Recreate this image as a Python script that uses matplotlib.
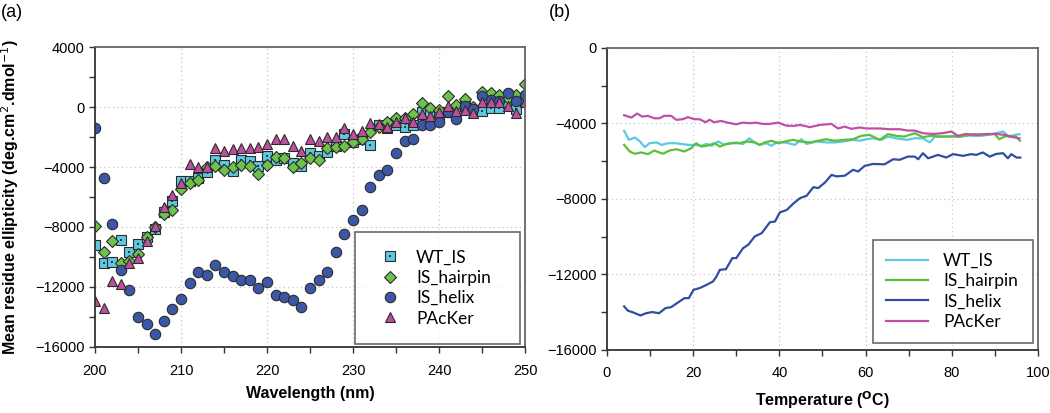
import matplotlib
matplotlib.use("Agg")
import matplotlib.pyplot as plt
from matplotlib.ticker import MultipleLocator
from matplotlib.legend_handler import HandlerTuple
import numpy as np

plt.rcParams['font.family'] = ['Liberation Sans', 'DejaVu Sans']

# ---- panel (a): CD spectra ----
wavelength = list(range(200, 251))

wt_is = [-9200, -10420, -10330, -8890, -9690, -9110, -8670, -8160, -7000, -6270,
         -4900, -4950, -4700, -4330, -3550, -3870, -4240, -3550, -3580, -3960,
         -3270, -3550, -3400, -3760, -3930, -3090, -3270, -2980, -2600, -1780,
         -2300, -2100, -2530, -1220, -1380, -1200, -1310, -1220, -310, -420,
         -500, -300, -200, 70, -200, -270, -50, -50, 290, -130, 400]

is_hairpin = [-7930, -9670, -8960, -10380, -10300, -9820, -8690, -7980, -7110, -6890,
              -5490, -5040, -4870, -4020, -3960, -4200, -3980, -3840, -3930, -4490,
              -3870, -3310, -3380, -3980, -3760, -3380, -3510, -2760, -2640, -2580,
              -2310, -2130, -1670, -1360, -980, -710, -700, -490, 290, -50,
              -200, 710, 110, 510, 0, 1020, 950, 780, 580, 820, 1530]

is_helix = [-1380, -4730, -7820, -10850, -12180, -13980, -14490, -15150, -14270, -13440,
            -12820, -11730, -11020, -11220, -10550, -11020, -11240, -11510, -11560, -12040,
            -11670, -12510, -12690, -12870, -13310, -12040, -11560, -11020, -9670, -8490,
            -7510, -6890, -5310, -4530, -4200, -3070, -2250, -2130, -1200, -1220,
            -1000, -330, -820, 50, -150, 750, 470, 400, 910, 400, 800]

packer = [-12930, -13380, -11580, -11820, -10380, -10070, -8930, -7910, -6640, -5870,
          -5090, -3820, -4020, -4020, -2760, -2910, -2820, -2760, -2760, -2690,
          -2490, -2160, -2130, -2600, -2910, -2160, -2250, -1980, -1980, -1420,
          -1820, -1580, -1040, -1130, -1310, -980, -710, -980, -470, -600,
          -310, 70, -270, -200, -380, 360, 310, 360, 70, -420, 360]

# ---- panel (b): thermal melts ----
t_wt = [4.0, 5.1, 6.5, 7.6, 8.8, 9.9, 11.5, 12.7, 14.2, 15.8, 17.3, 18.8, 20.4, 21.9,
        23.1, 24.3, 25.8, 27.3, 28.5, 30.1, 31.6, 33.0, 34.3, 35.4, 37.0, 38.2, 39.3,
        41.3, 43.6, 45.1, 46.3, 48.6, 50.9, 52.8, 54.8, 57.1, 58.6, 60.2, 61.7, 63.7,
        65.2, 67.1, 69.5, 71.4, 73.3, 74.9, 76.1, 78.0, 80.3, 81.8, 83.4, 84.9, 86.8,
        88.4, 90.3, 91.9, 93.4, 94.6, 95.7]
v_wt = [-4400, -4870, -4750, -4940, -5260, -5050, -5010, -5140, -5050, -5050, -5090,
        -5140, -5140, -5190, -5090, -5190, -4960, -5140, -5050, -5010, -5100, -4790,
        -5010, -5140, -5050, -5190, -5010, -5010, -5140, -4840, -5090, -4960, -5010,
        -5010, -4960, -4870, -4920, -4840, -4790, -4870, -4700, -4790, -4870, -4790,
        -4790, -5010, -4700, -4700, -4660, -4730, -4610, -4660, -4660, -4610, -4520,
        -4430, -4730, -4610, -4570]

t_hp = [4.0, 5.3, 6.5, 8.0, 9.5, 11.0, 13.0, 14.5, 16.1, 18.0, 19.5, 20.7, 21.9, 23.1,
        25.0, 26.2, 27.7, 29.2, 30.8, 32.3, 34.3, 35.4, 36.6, 38.2, 39.7, 41.3, 43.2,
        44.8, 47.1, 49.0, 50.9, 52.8, 55.2, 57.1, 59.0, 60.9, 63.3, 65.2, 67.1, 69.0,
        71.4, 73.3, 75.2, 77.2, 79.5, 81.4, 83.3, 85.3, 87.6, 89.9, 91.0, 92.2, 93.8,
        94.9, 95.8]
v_hp = [-5140, -5490, -5610, -5540, -5630, -5440, -5610, -5440, -5370, -5490, -5320,
        -5050, -5230, -5190, -5050, -5230, -5090, -5050, -5050, -4960, -5010, -5140,
        -5010, -4920, -5050, -4960, -4870, -4960, -5010, -4920, -4840, -4920, -4870,
        -4840, -4660, -4610, -4870, -4570, -4660, -4700, -4520, -4730, -4660, -4700,
        -4700, -4700, -4660, -4570, -4610, -4560, -4840, -4700, -4660, -4700, -4920]

t_hx = [4.0, 4.9, 6.1, 7.8, 9.1, 10.5, 12.1, 13.6, 14.9, 16.5, 18.0, 19.0, 20.1, 21.5,
        23.1, 24.6, 25.4, 26.2, 27.6, 29.1, 30.0, 31.6, 32.8, 34.3, 35.9, 37.8, 39.0,
        40.1, 41.7, 43.2, 44.8, 46.3, 47.9, 49.0, 50.6, 52.1, 53.3, 55.2, 57.1, 58.3,
        59.8, 61.7, 64.4, 66.4, 67.9, 69.8, 71.4, 72.2, 73.3, 74.5, 76.8, 78.7, 80.3,
        82.6, 84.5, 85.7, 87.2, 88.8, 90.3, 91.9, 93.0, 93.8, 95.0, 95.9]
v_hx = [-13700, -13930, -14020, -14180, -14060, -14000, -14060, -13790, -13740, -13490,
        -13260, -13260, -12820, -12730, -12560, -12380, -12120, -11760, -11730, -11140,
        -11140, -10610, -10430, -9990, -9820, -9240, -9200, -8720, -8590, -8260,
        -7960, -7840, -7380, -7430, -7130, -6730, -6810, -6770, -6460, -6550,
        -6250, -6150, -6170, -5900, -5930, -5760, -5760, -5900, -5580, -5850,
        -5670, -5810, -5630, -5720, -5630, -5670, -5540, -5760, -5620, -5580,
        -5850, -5630, -5810, -5810]

t_pk = [4.0, 5.7, 7.0, 8.2, 9.5, 11.0, 12.2, 13.3, 14.9, 16.1, 17.6, 18.8, 20.3, 21.5,
        22.9, 23.8, 24.9, 26.5, 28.0, 30.0, 31.5, 33.1, 34.6, 36.2, 37.7, 39.7, 41.6,
        43.5, 44.8, 47.1, 49.4, 52.1, 53.6, 55.2, 56.7, 58.6, 60.2, 63.3, 65.6, 67.9,
        69.8, 71.4, 73.3, 75.6, 77.9, 79.9, 81.4, 83.3, 85.7, 88.0, 90.3, 92.2, 94.2, 95.7]
v_pk = [-3570, -3690, -3480, -3640, -3600, -3730, -3730, -3600, -3600, -3810, -3780,
        -3670, -3780, -3780, -3940, -3810, -3940, -3870, -3960, -4050, -3960, -3990,
        -3960, -4030, -4030, -3960, -4120, -4130, -4080, -4200, -4080, -4030, -4270,
        -4170, -4290, -4220, -4270, -4270, -4310, -4310, -4380, -4380, -4520, -4560,
        -4520, -4430, -4660, -4560, -4610, -4560, -4560, -4610, -4730, -4790]

c_cyan = "#5cc8e2"
c_green = "#6cc24a"
c_blue = "#3b57a8"
c_mag = "#c04e9f"
edge = "#2b2b2b"

fig = plt.figure(figsize=(10.5, 4.13), dpi=100)
ax1 = fig.add_axes([0.0905, 0.160, 0.4095, 0.726])
ax2 = fig.add_axes([0.578, 0.153, 0.4106, 0.731])


def style_axes(ax):
    for s in ax.spines.values():
        s.set_color("#666666")
        s.set_linewidth(1.3)
    ax.spines["left"].set_color("#333333")
    ax.spines["bottom"].set_color("#333333")
    ax.tick_params(which="both", direction="out", length=4, width=1,
                   color="#333333", labelsize=10.5, top=False, right=False)
    ax.tick_params(axis="x", pad=8)
    ax.grid(True, which="major", linestyle=(0, (1, 2.5)), color="#c8c8c8", lw=0.9)
    ax.set_axisbelow(True)


leg_font = {"family": ["Lato", "DejaVu Sans"], "size": 12.5}

# panel (a)
kw = dict(linestyle="none", markeredgecolor=edge, markeredgewidth=0.8)
sq, = ax1.plot(wavelength, wt_is, marker="s", ms=6.5, color=c_cyan, **kw)
dot, = ax1.plot(wavelength, wt_is, marker="s", ms=1.7, color="#333333",
                linestyle="none", markeredgewidth=0)
dm, = ax1.plot(wavelength, is_hairpin, marker="D", ms=6.5, color=c_green, **kw)
ci, = ax1.plot(wavelength, is_helix, marker="o", ms=7.5, color=c_blue, **kw)
tr, = ax1.plot(wavelength, packer, marker="^", ms=7.5, color=c_mag, **kw)

ax1.set_xlim(200, 250)
ax1.set_ylim(-16000, 4000)
ax1.xaxis.set_major_locator(MultipleLocator(10))
ax1.xaxis.set_minor_locator(MultipleLocator(5))
ax1.yaxis.set_major_locator(MultipleLocator(4000))
ax1.yaxis.set_minor_locator(MultipleLocator(2000))
style_axes(ax1)
ax1.set_xlabel("Wavelength (nm)", fontsize=11.5, fontweight="bold", labelpad=6)
ax1.set_ylabel("Mean residue ellipticity (deg.cm$^{2}$.dmol$^{-1}$)",
               fontsize=11.5, fontweight="bold", labelpad=10)

leg1 = ax1.legend([(sq, dot), dm, ci, tr], ["WT_IS", "IS_hairpin", "IS_helix", "PAcKer"],
                  handler_map={tuple: HandlerTuple(ndivide=1)},
                  loc="lower left", bbox_to_anchor=(0.605, 0.01, 0.383, 0.36),
                  mode="expand", prop=leg_font, frameon=True, fancybox=False,
                  borderpad=1.0, labelspacing=0.25, handlelength=2.0,
                  handletextpad=0.5, borderaxespad=0)
leg1.get_frame().set_edgecolor("#444444")
leg1.get_frame().set_linewidth(1.2)

# panel (b)
ax2.plot(t_wt, v_wt, color=c_cyan, lw=1.6, label="WT_IS")
ax2.plot(t_hp, v_hp, color="#5cbf3a", lw=1.6, label="IS_hairpin")
ax2.plot(t_hx, v_hx, color="#2f4ea2", lw=1.6, label="IS_helix")
ax2.plot(t_pk, v_pk, color="#c24fa6", lw=1.6, label="PAcKer")

ax2.set_xlim(0, 100)
ax2.set_ylim(-16000, 0)
ax2.xaxis.set_major_locator(MultipleLocator(20))
ax2.xaxis.set_minor_locator(MultipleLocator(10))
ax2.yaxis.set_major_locator(MultipleLocator(4000))
ax2.yaxis.set_minor_locator(MultipleLocator(2000))
style_axes(ax2)
ax2.set_xlabel("Temperature ($\\mathbf{^{O}}$C)", fontsize=11.5, fontweight="bold", labelpad=6)

leg2 = ax2.legend(loc="lower left", bbox_to_anchor=(0.617, 0.023, 0.371, 0.34),
                  mode="expand", prop=leg_font, frameon=True, fancybox=False,
                  borderpad=0.75, labelspacing=0.25, handlelength=2.4,
                  handletextpad=0.9, borderaxespad=0)
leg2.get_frame().set_edgecolor("#444444")
leg2.get_frame().set_linewidth(1.2)

fig.text(0.001, 0.97, "(a)", fontsize=13, va="center", ha="left")
fig.text(0.523, 0.97, "(b)", fontsize=13, va="center", ha="left")

fig.savefig("out.png", dpi=100)
